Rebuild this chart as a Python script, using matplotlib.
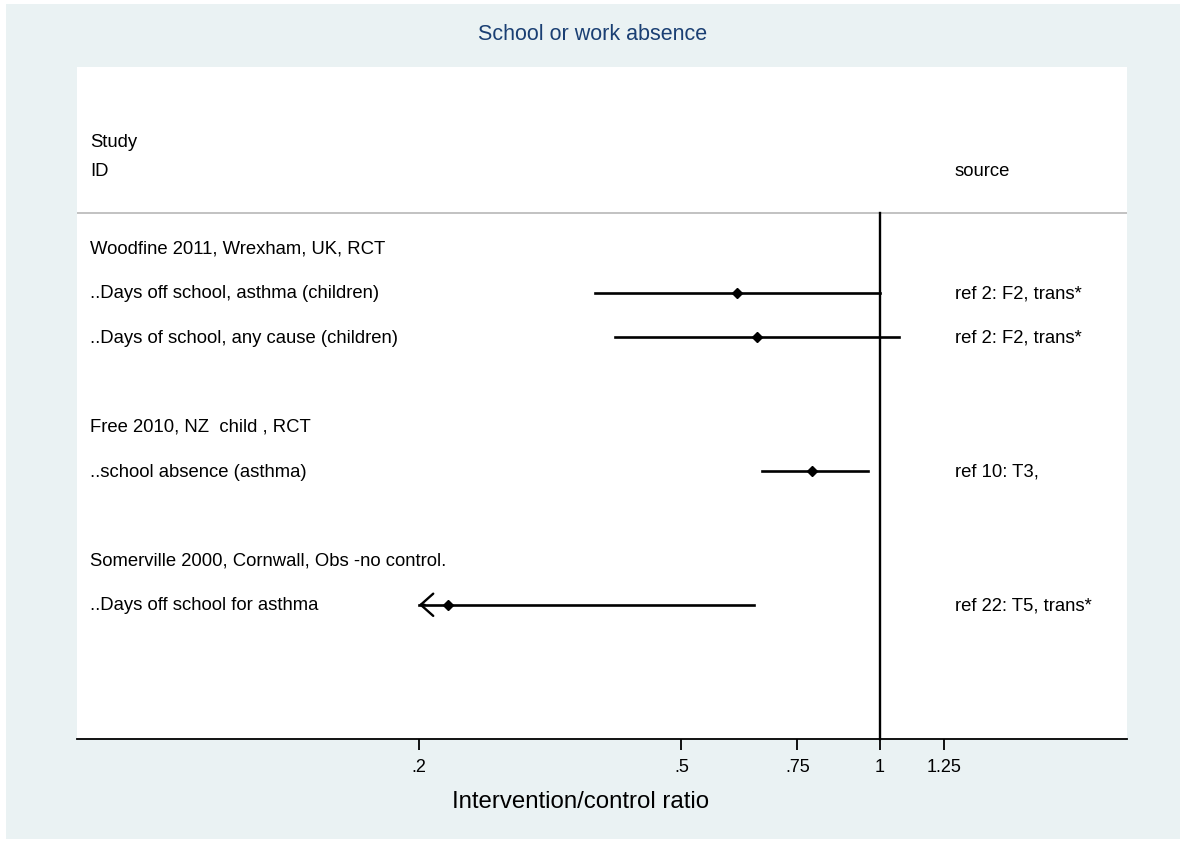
import matplotlib
matplotlib.use("Agg")
import matplotlib.pyplot as plt
from matplotlib.patches import Rectangle

plt.rcParams['font.family'] = ['Liberation Sans', 'DejaVu Sans']

# rows of the forest plot, top to bottom
labels = ["Woodfine 2011, Wrexham, UK, RCT",
          "..Days off school, asthma (children)",
          "..Days of school, any cause (children)",
          "",
          "Free 2010, NZ  child , RCT",
          "..school absence (asthma)",
          "",
          "Somerville 2000, Cornwall, Obs -no control.",
          "..Days off school for asthma"]
sources = ["", "ref 2: F2, trans*", "ref 2: F2, trans*", "",
           "", "ref 10: T3,", "", "", "ref 22: T5, trans*"]
# ratio estimates and confidence limits (None for heading rows)
est = [None, 0.607, 0.651, None, None, 0.789, None, None, 0.221]
lo = [None, 0.370, 0.397, None, None, 0.662, None, None, 0.15]
hi = [None, 1.00, 1.069, None, None, 0.959, None, None, 0.645]

ticks = [0.2, 0.5, 0.75, 1, 1.25]
tick_labels = [".2", ".5", ".75", "1", "1.25"]

W, H = 1186, 845
fs = 13.3
fig = plt.figure(figsize=(W / 100, H / 100), dpi=100)
fig.patch.set_facecolor('white')
fig.add_artist(Rectangle((6 / W, 5 / H), 1174 / W, 835 / H, transform=fig.transFigure,
                         facecolor='#eaf2f3', edgecolor='none', zorder=0))

ax = fig.add_axes([77 / W, 1 - 740 / H, 1050 / W, 672 / H])
ax.set_facecolor('white')
ax.set_xscale('log')
ax.set_xlim(0.0606, 2.37)
ax.set_ylim(11.01, -4.06)
for s in ['top', 'left', 'right']:
    ax.spines[s].set_visible(False)
ax.spines['bottom'].set_linewidth(1.3)
ax.set_yticks([])
ax.set_xticks(ticks)
ax.set_xticklabels(tick_labels, fontsize=13)
ax.minorticks_off()
ax.tick_params(axis='x', length=8, width=1.3, pad=6)

head_y = -0.785
ax.axhline(head_y, color='#bdbdbd', lw=1.3)
ax.plot([1, 1], [head_y, 11.01], color='black', lw=1.7, clip_on=False)

ax.text(0.0124, -2.38, "Study", transform=ax.get_yaxis_transform(),
        fontsize=fs, va='center', ha='left')
ax.text(0.0124, -1.73, "ID", transform=ax.get_yaxis_transform(),
        fontsize=fs, va='center', ha='left')
ax.text(0.836, -1.73, "source", transform=ax.get_yaxis_transform(),
        fontsize=fs, va='center', ha='left')

xmin = ticks[0]
for i, (lab, src) in enumerate(zip(labels, sources)):
    ax.text(0.0124, i, lab, transform=ax.get_yaxis_transform(),
            fontsize=fs, va='center', ha='left')
    ax.text(0.836, i, src, transform=ax.get_yaxis_transform(),
            fontsize=fs, va='center', ha='left')
    if est[i] is None:
        continue
    if lo[i] < xmin:
        # lower limit off the scale: open arrow at the edge
        ax.plot([xmin, hi[i]], [i, i], color='black', lw=1.9)
        ax.annotate('', xy=(xmin, i), xytext=(xmin * 1.02, i),
                    arrowprops=dict(arrowstyle='->,head_length=0.9,head_width=0.8',
                                    lw=1.7, color='black', shrinkA=0, shrinkB=0))
    else:
        ax.plot([lo[i], hi[i]], [i, i], color='black', lw=1.9)
    ax.plot(est[i], i, marker='D', ms=5, color='black')

fig.text(593 / W, 1 - 34 / H, "School or work absence", fontsize=15.5,
         color='#1a3f73', ha='center', va='center')
fig.text(581 / W, 1 - 802 / H, "Intervention/control ratio", fontsize=17.3,
         ha='center', va='center')

fig.savefig("out.png", dpi=100, facecolor=fig.get_facecolor())
